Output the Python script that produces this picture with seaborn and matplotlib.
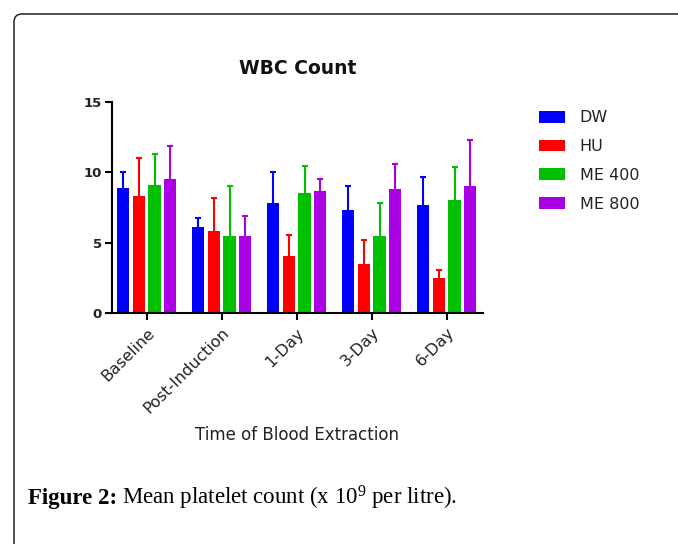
import numpy as np
import pandas as pd
import matplotlib
matplotlib.use("Agg")
import matplotlib.pyplot as plt
import seaborn as sns
from matplotlib.patches import FancyBboxPatch
from matplotlib.transforms import IdentityTransform

# data (mean and upper error)
times = ["Baseline", "Post-Induction", "1-Day", "3-Day", "6-Day"]
groups = ["DW", "HU", "ME 400", "ME 800"]
dw_mean = [8.9, 6.1, 7.8, 7.35, 7.65]
dw_err = [1.15, 0.65, 2.25, 1.7, 2.05]
hu_mean = [8.3, 5.8, 4.05, 3.5, 2.5]
hu_err = [2.7, 2.35, 1.5, 1.65, 0.55]
me400_mean = [9.1, 5.5, 8.55, 5.5, 8.0]
me400_err = [2.2, 3.55, 1.9, 2.3, 2.4]
me800_mean = [9.55, 5.5, 8.65, 8.85, 9.0]
me800_err = [2.35, 1.4, 0.85, 1.75, 3.3]

colors = ["#0000FF", "#FF0000", "#00C000", "#AA00E6"]

means = [dw_mean, hu_mean, me400_mean, me800_mean]
errs = [dw_err, hu_err, me400_err, me800_err]
rows = []
for g, m in zip(groups, means):
    for t, v in zip(times, m):
        rows.append({"time": t, "group": g, "value": v})
df = pd.DataFrame(rows)

sns.set_theme(style="white")
plt.rcParams["font.family"] = ["DejaVu Sans"]

fig = plt.figure(figsize=(6.78, 5.44), dpi=100)
ax = fig.add_axes([0.1647, 0.4252, 0.7124 - 0.1647, 0.8120 - 0.4252])

sns.barplot(data=df, x="time", y="value", hue="group", order=times,
            hue_order=groups, palette=colors, width=0.84, gap=0.22,
            errorbar=None, saturation=1, linewidth=0, ax=ax, legend=True)

# upper-only error bars in the bar colour
for cont, err, col in zip(ax.containers, errs, colors):
    xs = [p.get_x() + p.get_width() / 2 for p in cont.patches]
    hs = [p.get_height() for p in cont.patches]
    eb = ax.errorbar(xs, hs, yerr=[np.zeros(len(err)), err], fmt="none",
                     ecolor=col, elinewidth=1.5, capsize=2.5, capthick=1.5,
                     zorder=1)
    eb[1][0].set_visible(False)

ax.set_ylim(0, 15)
ax.set_xlim(-0.467, 4.484)
ax.set_yticks([0, 5, 10, 15])
for s in ["top", "right"]:
    ax.spines[s].set_visible(False)
for s in ["left", "bottom"]:
    ax.spines[s].set_color("black")
    ax.spines[s].set_linewidth(1.5)
ax.tick_params(axis="both", direction="out", length=5, width=1.5,
               color="black", bottom=True, left=True)
ax.tick_params(axis="y", labelsize=9.5, pad=2)
for lab in ax.get_yticklabels():
    lab.set_fontweight("bold")
    lab.set_color("#222222")
ax.set_xticks(range(len(times)))
ax.set_xticklabels(times, rotation=45, ha="right", rotation_mode="anchor",
                   fontsize=11.5, color="#222222")
ax.tick_params(axis="x", pad=4)
ax.set_ylabel("")
ax.set_xlabel("Time of Blood Extraction", fontsize=12, color="#222222",
              labelpad=7)
ax.set_title("WBC Count", fontsize=13.5, fontweight="bold", color="#111111",
             pad=20)

handles, labels = ax.get_legend_handles_labels()
ax.legend(handles, labels, loc="upper left",
          bbox_to_anchor=(0.7954, 0.797), bbox_transform=fig.transFigure,
          frameon=False, fontsize=11.5, handlelength=1.63, handleheight=0.75,
          labelspacing=0.86, handletextpad=0.9, borderpad=0,
          borderaxespad=0, labelcolor="#222222")

# rounded frame of the figure panel
frame = FancyBboxPatch((14, -30), 720, 560, boxstyle="round,pad=0,rounding_size=8",
                       transform=IdentityTransform(), facecolor="none",
                       edgecolor="#222222", linewidth=1.1)
fig.add_artist(frame)

# caption: bold label followed by regular text
cap_y = 1 - 504 / 544
t1 = fig.text(28 / 678, cap_y, "Figure 2:", fontsize=16.5,
              family="Liberation Serif", fontweight="bold", color="black",
              ha="left", va="baseline")
fig.canvas.draw()
bb = t1.get_window_extent()
plt.rcParams["mathtext.fontset"] = "custom"
plt.rcParams["mathtext.rm"] = "Liberation Serif"
plt.rcParams["mathtext.it"] = "Liberation Serif"
fig.text((bb.x1 + 5) / 678, cap_y,
         r"Mean platelet count (x 10$^{\mathrm{9}}$ per litre).",
         fontsize=16.5, family="Liberation Serif", color="black",
         ha="left", va="baseline")

fig.savefig("out.png", dpi=100)
